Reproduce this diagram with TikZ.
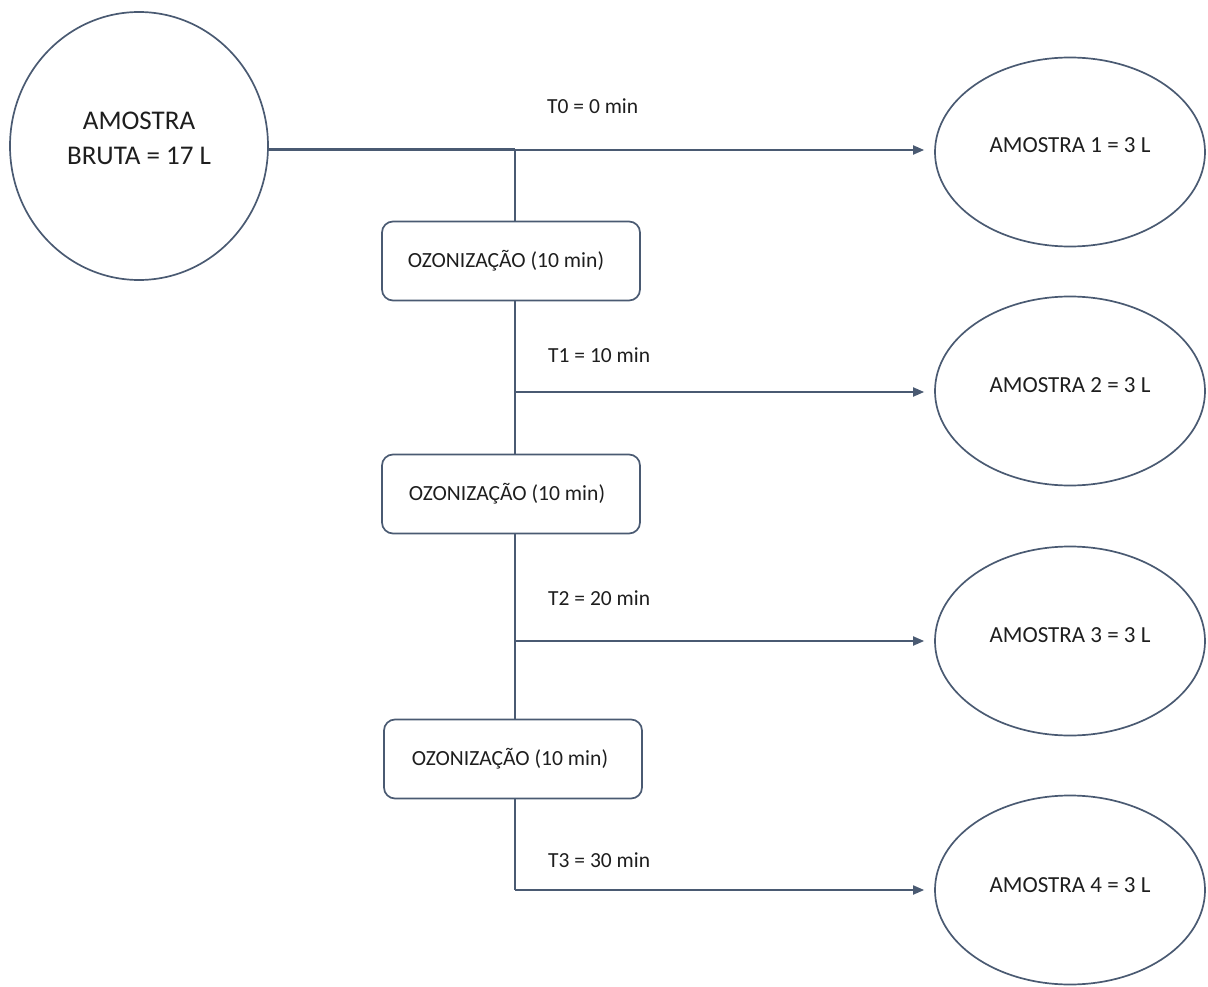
\documentclass[tikz,border=0pt]{standalone}
\usepackage{fontspec}
\setmainfont{Carlito}
\usetikzlibrary{shapes.geometric,arrows.meta}
\definecolor{lc}{HTML}{4A5A72}
\definecolor{tc}{HTML}{1E1E1E}
\tikzset{
  sample/.style={ellipse,draw=lc,line width=1.7pt,minimum width=270pt,minimum height=189pt,inner sep=0pt,text=tc,
    font=\fontsize{23}{26}\selectfont,text height=14.8pt,text depth=0pt},
  ozbox/.style={rectangle,rounded corners=11pt,draw=lc,line width=1.7pt,minimum width=258pt,minimum height=79pt,inner sep=0pt,text=tc,
    font=\fontsize{21.6}{24}\selectfont,text height=13.9pt,text depth=0pt},
  conn/.style={draw=lc,line width=1.8pt},
  arr/.style={conn,-{Triangle[length=11pt,width=9pt]},shorten >=10pt},
  tlabel/.style={anchor=base west,text=tc,font=\fontsize{21.5}{24}\selectfont,inner sep=0pt},
  srctext/.style={anchor=base,text=tc,font=\fontsize{27}{30}\selectfont,inner sep=0pt}
}
\begin{document}
\begin{tikzpicture}[x=1pt,y=-1pt]
\useasboundingbox (0,0) rectangle (1208,987);
% source
\node[ellipse,draw=lc,line width=1.7pt,minimum width=258pt,minimum height=268pt,inner sep=0pt] (src) at (139,146) {};
\node[srctext] (srcA) at (139,130) {AMOSTRA};
\node[srctext] (srcB) at (139,165) {BRUTA = 17 L};
% samples
\node[sample] (e1) at (1070,152) {\raisebox{7pt}{AMOSTRA 1 = 3 L}};
\node[sample] (e2) at (1070,391) {\raisebox{6pt}{AMOSTRA 2 = 3 L}};
\node[sample] (e3) at (1070,641) {\raisebox{6pt}{AMOSTRA 3 = 3 L}};
\node[sample] (e4) at (1070,890) {\raisebox{5pt}{AMOSTRA 4 = 3 L}};
% boxes
\node[ozbox] (b1) at (511,261) {\hspace*{-10pt}OZONIZAÇÃO (10 min)};
\node[ozbox] (b2) at (511,494) {\hspace*{-8pt}OZONIZAÇÃO (10 min)};
\node[ozbox] (b3) at (513,759) {\hspace*{-6pt}OZONIZAÇÃO (10 min)};
% junctions
\coordinate (j0) at (515,150);
\coordinate (j1) at (515,392);
\coordinate (j2) at (515,641);
\coordinate (j3) at (515,890);
% connectors
\draw[draw=lc,line width=3pt] (src.east |- j0) -- (j0);
\draw[arr] (j0) -- (e1.west |- j0);
\draw[conn] (j0) -- (b1.north -| j0);
\draw[conn] (b1.south -| j0) -- (b2.north -| j0);
\draw[arr] (j1) -- (e2.west |- j1);
\draw[conn] (b2.south -| j0) -- (b3.north -| j0);
\draw[arr] (j2) -- (e3.west |- j2);
\draw[conn] (b3.south -| j0) -- (j3);
\draw[arr] (j3) -- (e4.west |- j3);
% labels
\node[tlabel] (t0) at (547,114) {T0 = 0 min};
\node[tlabel] (t1) at (548,362) {T1 = 10 min};
\node[tlabel] (t2) at (548,605) {T2 = 20 min};
\node[tlabel] (t3) at (548,867) {T3 = 30 min};
\end{tikzpicture}
\end{document}
